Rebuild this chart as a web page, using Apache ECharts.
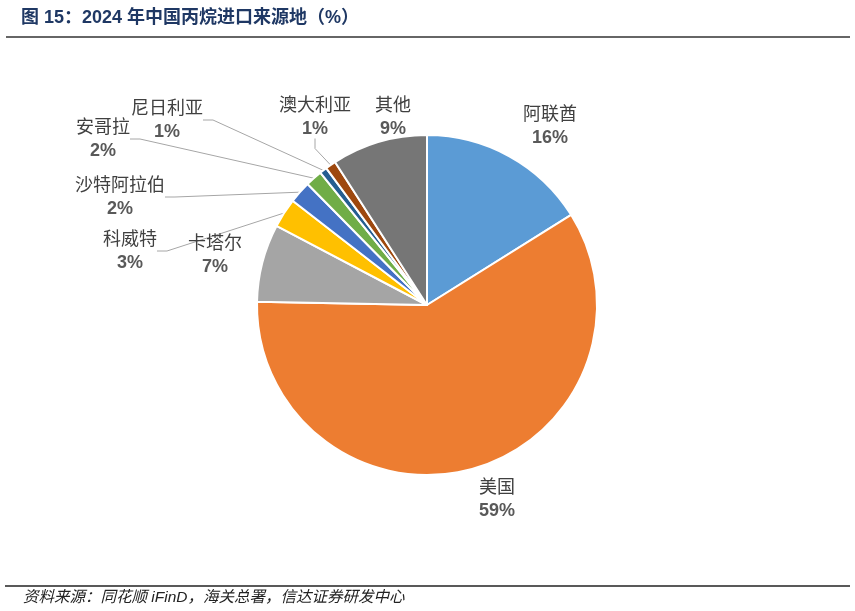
<!DOCTYPE html>
<html>
<head>
<meta charset="utf-8">
<script src="https://cdn.jsdelivr.net/npm/echarts@6/dist/echarts.min.js"></script>
<style>
html,body{margin:0;padding:0;background:#fff;}
#chart{width:855px;height:611px;}
</style>
</head>
<body>
<div id="chart"></div>
<script>
const categories = ['阿联酋', '美国', '卡塔尔', '科威特', '沙特阿拉伯', '安哥拉', '尼日利亚', '澳大利亚', '其他'];
const shares = [16.1, 59.2, 7.4, 2.8, 2.1, 1.6, 0.7, 1.0, 9.1];
const colors = ['#5B9BD5', '#ED7D31', '#A5A5A5', '#FFC000', '#4472C4', '#70AD47', '#255E91', '#9E480E', '#767676'];
const titleText = '图 15：2024 年中国丙烷进口来源地（%）';
const sourceText = '资料来源：同花顺 iFinD，海关总署，信达证券研发中心';

// label placement (layout only)
const labelPos = [[550,126],[497,499],[215,255],[130,251],[120,197],[103,139],[167,120],[315,117],[393,117]];
const withLine = [false,false,false,true,true,true,true,true,false];

const chart = echarts.init(document.getElementById('chart'));
chart.setOption({
  animation: false,
  title: {
    text: titleText,
    left: 16, top: 4,
    textStyle: {fontFamily: 'Liberation Sans, Noto Sans CJK SC', fontWeight: 'bold', fontSize: 18, color: '#1F3864'}
  },
  graphic: [
    {type: 'line', shape: {x1: 6, y1: 37, x2: 850, y2: 37}, style: {stroke: '#333', lineWidth: 1.5}},
    {type: 'line', shape: {x1: 5, y1: 586, x2: 850, y2: 586}, style: {stroke: '#222', lineWidth: 1.5}},
    {type: 'text', left: 23, top: 590, style: {text: sourceText, font: 'italic 15.5px "Liberation Sans", "Noto Sans CJK SC"', fill: '#222'}}
  ],
  series: [{
    type: 'pie',
    center: [427, 305],
    radius: 170,
    startAngle: 90,
    clockwise: true,
    avoidLabelOverlap: false,
    itemStyle: {borderColor: '#fff', borderWidth: 2},
    label: {
      show: true,
      position: 'outside',
      formatter: p => '{n|' + p.name + '}\n{v|' + Math.round(p.value) + '%}',
      rich: {
        n: {fontFamily: 'Noto Sans CJK SC', fontSize: 18, color: '#404040', lineHeight: 25, align: 'center'},
        v: {fontFamily: 'Liberation Sans', fontWeight: 'bold', fontSize: 18, color: '#595959', lineHeight: 25, align: 'center'}
      }
    },
    labelLine: {show: true, lineStyle: {color: '#A6A6A6', width: 1}, length: 10, length2: 10},
    labelLayout: p => ({x: labelPos[p.dataIndex][0], y: labelPos[p.dataIndex][1], align: 'center', verticalAlign: 'middle'}),
    data: categories.map((c, i) => ({
      name: c, value: shares[i],
      itemStyle: {color: colors[i]},
      labelLine: {show: withLine[i]}
    }))
  }]
});
</script>
</body>
</html>
